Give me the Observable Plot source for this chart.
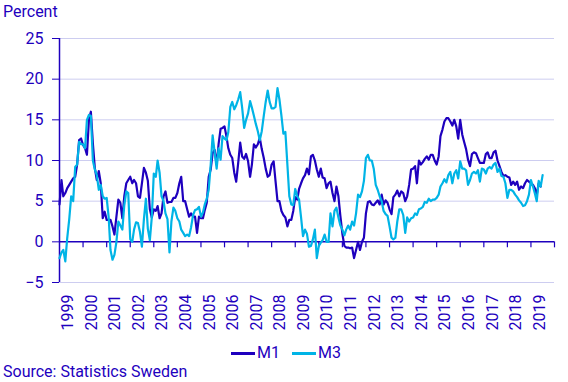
<!DOCTYPE html>
<html>
<head>
<meta charset="utf-8">
<script src="https://cdn.jsdelivr.net/npm/d3@7"></script>
<script src="https://cdn.jsdelivr.net/npm/@observablehq/plot@0.6"></script>
<style>
  html, body { margin: 0; padding: 0; background: #fff; }
  #wrap { position: relative; width: 568px; height: 382px; font-family: Roboto, sans-serif; color: #1E00BE; overflow: hidden; }
  #chart { position: absolute; left: 0; top: 0; }
  .lbl { position: absolute; font-size: 16px; line-height: 20px; white-space: nowrap; }
  #legend { position: absolute; top: 343px; left: 2px; width: 568px; display: flex; justify-content: center; align-items: center; font-size: 16px; line-height: 20px; }
  .sw { display: inline-block; width: 24px; height: 3px; margin-right: 2px; }
  .item { display: flex; align-items: center; margin: 0 6px; }
</style>
</head>
<body>
<div id="wrap">
  <div id="chart"></div>
  <div class="lbl" style="left:3px; top:2px;">Percent</div>
  <div id="legend"></div>
  <div class="lbl" style="left:3px; top:362px;">Source: Statistics Sweden</div>
</div>
<script>
// Monthly annual growth rates, from January 1999
const seriesNames = ["M1", "M3"];
const seriesColors = ["#1E00BE", "#00B4E6"];
const m1 = [
  4.6, 7.6, 5.6, 6.0, 6.6, 7.0, 7.4, 7.8, 8.0, 9.5, 12.5, 12.7,
  11.9, 11.5, 10.7, 15.0, 16.0, 12.1, 9.1, 7.6, 8.7, 7.2, 2.9, 3.7,
  2.7, 2.7, 2.7, 1.9, 0.9, 3.1, 5.2, 4.8, 2.9, 5.6, 7.2, 7.6,
  8.0, 7.2, 7.6, 7.2, 5.6, 5.4, 7.2, 9.1, 8.5, 7.5, 4.0, 3.0,
  4.0, 3.8, 4.4, 2.9, 3.5, 5.6, 6.2, 4.8, 4.9, 4.9, 5.4, 5.4,
  6.0, 7.2, 8.0, 5.0, 5.0, 4.0, 3.1, 3.5, 3.1, 3.1, 1.1, 3.1,
  2.9, 2.9, 3.9, 4.8, 8.0, 8.9, 10.9, 11.3, 9.5, 12.0, 13.9, 14.0,
  14.2, 12.9, 11.5, 10.7, 10.3, 8.5, 7.4, 9.7, 12.2, 10.5, 10.2, 10.8,
  9.9, 8.0, 9.5, 12.0, 11.6, 12.0, 12.8, 11.4, 10.3, 9.0, 8.0, 8.2,
  9.5, 9.9, 7.5, 5.0, 5.0, 3.8, 3.3, 3.0, 1.9, 2.7, 2.7, 3.8,
  5.5, 5.2, 6.5, 7.2, 7.8, 8.2, 9.0, 8.3, 10.5, 10.7, 10.0, 8.9,
  8.0, 9.0, 7.9, 7.8, 6.6, 7.2, 7.4, 6.0, 5.0, 6.8, 5.6, 3.2,
  1.0, -0.5, -0.7, -0.7, -0.8, -0.7, -2.0, -1.0, 0.0, -1.0, 0.0, 0.5,
  3.5, 4.9, 5.0, 4.6, 4.5, 4.8, 5.1, 4.6, 5.8, 4.6, 5.1, 4.8,
  4.0, 3.4, 5.5, 5.8, 6.3, 5.6, 6.2, 6.0, 5.0, 5.6, 7.0, 8.9,
  9.0, 9.3, 7.2, 10.0, 9.5, 9.8, 10.2, 10.5, 10.1, 10.7, 10.7, 10.0,
  9.5, 10.5, 13.0, 13.8, 14.8, 15.2, 15.2, 14.8, 14.3, 15.0, 14.2, 12.7,
  15.0, 13.2, 12.3, 11.4, 10.1, 9.3, 10.8, 11.0, 10.9, 10.3, 9.7, 9.7,
  9.7, 10.8, 11.0, 10.3, 10.3, 11.0, 11.2, 10.0, 9.3, 8.6, 8.1, 8.2,
  8.0, 7.9, 7.0, 7.4, 7.0, 7.4, 6.4, 6.8, 6.6, 7.2, 7.6, 7.4,
  7.2, 7.0, 6.6, 5.8, 7.2, 6.8
];
const m3 = [
  -2.0, -1.3, -1.0, -2.4, 0.5, 2.8, 5.6, 5.0, 9.2, 9.5, 12.3, 12.0,
  12.0, 11.5, 15.0, 15.6, 15.5, 10.0, 8.9, 8.2, 6.4, 7.0, 5.6, 5.3,
  5.4, 3.0, -1.0, -2.2, -1.6, 0.0, 2.5, 2.0, 1.5, 4.5, 6.2, 6.0,
  0.3, 0.0, 1.5, 2.4, 2.3, 1.2, -0.6, 2.8, 5.3, 1.6, 0.2, 3.0,
  8.4, 8.0, 10.0, 8.5, 5.6, 5.0, 3.5, 2.8, -1.3, 2.5, 4.2, 3.8,
  2.9, 2.5, 1.5, 1.1, 0.7, 0.9, 0.7, 1.8, 3.3, 3.9, 4.0, 4.3,
  3.1, 3.6, 4.6, 5.3, 6.4, 9.5, 13.1, 11.0, 9.0, 11.5, 10.1, 13.0,
  12.7, 12.5, 13.5, 16.6, 17.2, 16.3, 16.8, 17.5, 18.4, 16.5, 14.0, 15.0,
  15.8, 17.3, 16.5, 15.5, 14.5, 13.6, 12.5, 13.6, 15.5, 17.2, 18.6, 17.2,
  16.4, 16.4, 16.6, 18.9, 17.5, 15.5, 13.3, 13.5, 9.5, 5.6, 4.6, 4.5,
  6.5, 5.6, 5.2, 3.0, 0.7, 1.5, 1.0, -0.6, -0.5, 0.3, 1.5, -2.0,
  -0.5, -0.1, 0.2, 0.9, 0.0, 0.0, 3.5, 1.9, 3.8, 4.2, 3.0, 2.0,
  1.5, 0.8, 1.5, 2.0, 1.5, 2.5, 2.0, 3.5, 5.8, 5.5, 6.2, 7.5,
  10.3, 10.7, 10.0, 10.0, 9.0, 7.0, 6.4, 5.6, 5.0, 3.8, 3.4, 3.2,
  1.9, 0.5, 0.3, 0.5, 2.5, 4.0, 4.0, 3.3, 1.1, 3.0, 2.5, 2.9,
  3.0, 3.5, 3.3, 4.0, 4.1, 4.3, 4.9, 4.8, 5.3, 5.0, 5.2, 5.2,
  5.4, 5.8, 6.8, 7.2, 7.7, 7.3, 8.2, 8.6, 7.2, 8.4, 8.8, 7.8,
  9.9, 9.0, 9.0, 8.8, 7.0, 7.6, 8.4, 8.6, 8.4, 8.8, 7.4, 9.0,
  8.9, 8.4, 9.0, 9.2, 9.0, 9.5, 9.7, 8.6, 9.0, 8.1, 8.0, 7.2,
  5.4, 6.4, 6.4, 6.2, 5.8, 5.5, 5.1, 4.8, 4.4, 4.5, 5.0, 5.8,
  7.6, 6.8, 6.0, 5.0, 7.5, 6.8, 8.2
];
const yearLabels = ["1999","2000","2001","2002","2003","2004","2005","2006","2007","2008","2009","2010","2011","2012","2013","2014","2015","2016","2017","2018","2019"];
const yTicks = [-5, 0, 5, 10, 15, 20, 25];

const dark = "#1E00BE";
const grid = "#CDCDF0";
const toRows = (arr) => arr.map((v, i) => ({date: new Date(Date.UTC(1999, i, 1)), value: v}));
const rows1 = toRows(m1), rows3 = toRows(m3);
const start = new Date(Date.UTC(1999, 0, 1));
const end = new Date(Date.UTC(2020, 0, 1));
const yearStarts = d3.range(2000, 2021).map(y => new Date(Date.UTC(y, 0, 1)));

const chart = Plot.plot({
  width: 568, height: 340,
  marginLeft: 59, marginRight: 14, marginTop: 38, marginBottom: 58,
  style: {fontFamily: "Roboto, sans-serif", fontSize: "16px", color: dark, background: "white", overflow: "visible"},
  x: {type: "utc", domain: [start, end], axis: null},
  y: {domain: [-5, 25], axis: null},
  marks: [
    Plot.ruleY(yTicks.filter(d => d !== 0), {stroke: grid, strokeWidth: 1}),
    Plot.axisY({ticks: yTicks, tickSize: 7, tickPadding: 9, label: null, stroke: dark, fill: dark, fontSize: 16}),
    Plot.ruleX([start], {y1: -5, y2: 25, stroke: dark, strokeWidth: 1.5}),
    Plot.ruleY([0], {stroke: dark, strokeWidth: 1.5}),
    Plot.ruleX(yearStarts, {y1: 0, y2: 0, insetBottom: -6, stroke: dark, strokeWidth: 1.2}),
    Plot.text(yearLabels, {x: d => new Date(Date.UTC(+d, 6, 1)), text: d => d, frameAnchor: "bottom", rotate: -90, textAnchor: "end", dx: 2, dy: 12, fill: dark, fontSize: 16}),
    Plot.lineY(rows1, {x: "date", y: "value", stroke: seriesColors[0], strokeWidth: 2.2}),
    Plot.lineY(rows3, {x: "date", y: "value", stroke: seriesColors[1], strokeWidth: 2.2})
  ]
});
document.getElementById("chart").appendChild(chart);

const legend = document.getElementById("legend");
seriesNames.forEach((name, i) => {
  const item = document.createElement("span");
  item.className = "item";
  const sw = document.createElement("span");
  sw.className = "sw";
  sw.style.background = seriesColors[i];
  item.appendChild(sw);
  item.appendChild(document.createTextNode(name));
  legend.appendChild(item);
});
</script>
</body>
</html>
